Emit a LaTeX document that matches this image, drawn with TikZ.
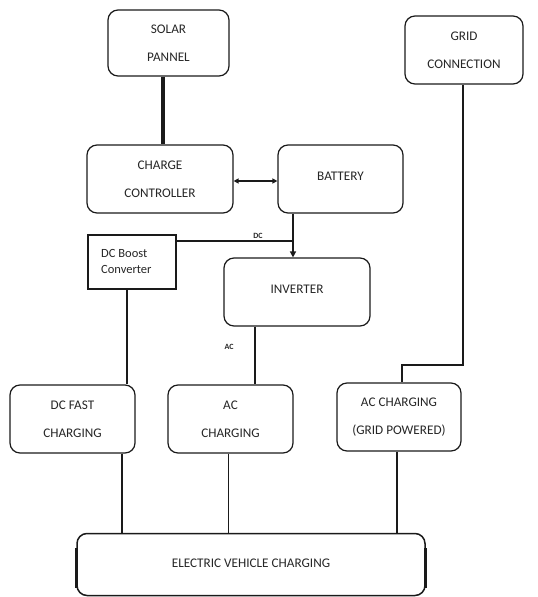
\documentclass[tikz,border=0pt]{standalone}
\usepackage{fontspec}
\setmainfont{Carlito}
\usetikzlibrary{arrows.meta}
\definecolor{txt}{HTML}{262626}
\definecolor{ln}{HTML}{1A1A1A}
\tikzset{
  box/.style={draw=ln, line width=1.2pt, rounded corners=10pt, inner sep=0pt,
    text=txt, align=center, font=\fontsize{13.2}{28}\selectfont},
  sqbox/.style={draw=ln, line width=2pt, inner sep=0pt},
  sqtext/.style={inner sep=0pt, text=txt, align=left, font=\fontsize{12.5}{16}\selectfont},
  wire/.style={draw=ln, line width=1.6pt},
  thinwire/.style={draw=ln, line width=1pt},
  tag/.style={text=txt, font=\bfseries\fontsize{8}{9}\selectfont, inner sep=0pt},
}
\begin{document}
\begin{tikzpicture}[x=1pt,y=-1pt]
\useasboundingbox (0,0) rectangle (538,597);
\node[box, minimum width=121pt, minimum height=66pt] (solar) at (168.5,43) {SOLAR\\PANNEL};
\node[box, minimum width=118pt, minimum height=68pt] (grid) at (464,50) {GRID\\CONNECTION};
\node[box, minimum width=146pt, minimum height=68pt] (cc) at (160,179) {CHARGE\\CONTROLLER};
\node[box, minimum width=125pt, minimum height=68pt] (bat) at (340.5,179) {\raisebox{5pt}{BATTERY}};
\node[sqbox, minimum width=88pt, minimum height=54pt] (boost) at (132,262) {};
\node[sqtext, anchor=west] (boosttxt) at (101,261) {DC Boost\\Converter};
\node[box, minimum width=146pt, minimum height=68pt] (inv) at (297,292) {\raisebox{5pt}{INVERTER}};
\node[box, minimum width=125pt, minimum height=68pt] (dcf) at (72.5,419) {DC FAST\\CHARGING};
\node[box, minimum width=125pt, minimum height=68pt] (acc) at (230.5,419) {AC\\CHARGING};
\node[box, minimum width=124pt, minimum height=68pt] (acg) at (399,417) {AC CHARGING\\(GRID POWERED)};
\node[box, line width=1.5pt, minimum width=348pt, minimum height=62pt] (ev) at (251,564.5) {\raisebox{2pt}{ELECTRIC VEHICLE CHARGING}};
\draw[draw=ln, line width=3pt] (ev.west |- 0,548) -- (ev.west |- 0,588);
\draw[draw=ln, line width=3pt] (ev.east |- 0,548) -- (ev.east |- 0,588);
% connectors
\draw[draw=ln, line width=3.2pt] (solar.south -| 163,0) -- (cc.north -| 163,0);
\draw[wire, {Triangle[length=5pt,width=5pt]}-{Triangle[length=5pt,width=5pt]}] (cc.east |- 0,181) -- (bat.west |- 0,181);
\draw[wire, -{Triangle[length=6pt,width=6pt]}] (bat.south -| 293,0) -- (inv.north -| 293,0);
\coordinate (dcj) at (293,241);
\draw[wire] (boost.east |- dcj) -- (dcj);
\node[tag] (dclbl) at (258,236) {DC};
\draw[wire] (boost.south -| 127,0) -- (dcf.north -| 127,0);
\draw[wire] (inv.south -| 255,0) -- (acc.north -| 255,0);
\node[tag] (aclbl) at (229,347) {AC};
\coordinate (g2) at (402,365);
\draw[wire] (grid.south -| 463,0) -- (463,365) -- (g2) -- (acg.north -| g2);
\draw[wire] (dcf.south -| 122,0) -- (ev.north -| 122,0);
\draw[thinwire] (acc.south -| 228,0) -- (ev.north -| 228,0);
\draw[wire] (acg.south -| 397,0) -- (ev.north -| 397,0);
\end{tikzpicture}
\end{document}
